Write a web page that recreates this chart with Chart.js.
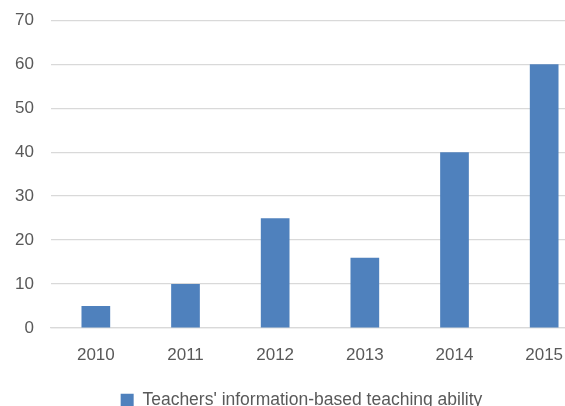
<!DOCTYPE html>
<html>
<head>
<meta charset="utf-8">
<script src="https://cdn.jsdelivr.net/npm/chart.js@4/dist/chart.umd.min.js"></script>
<style>
  html, body { margin: 0; padding: 0; background: #fff; overflow: hidden; }
  #wrap { width: 565px; height: 406px; overflow: hidden; position: relative; }
  #box { width: 636px; height: 426px; position: absolute; left: 0; top: -7px; }
</style>
</head>
<body>
<div id="wrap">
  <div id="box"><canvas id="bar-chart"></canvas></div>
</div>
<script>
// chart data
const years = ["2010", "2011", "2012", "2013", "2014", "2015"];
const abilityValues = [5, 10, 25, 16, 40, 60];
const seriesName = "Teachers' information-based teaching ability";

const FONT = "'Liberation Sans', Arial, sans-serif";
const GREY_TEXT = "#595959";

let config = {
  type: "bar",
  data: {
    labels: years,
    datasets: [
      {
        label: seriesName,
        data: abilityValues,
        backgroundColor: "#4f81bd",
        borderWidth: 0,
        barPercentage: 1,
        categoryPercentage: 0.32,
      },
    ],
  },
  options: {
    responsive: true,
    maintainAspectRatio: false,
    animation: false,
    layout: {
      padding: { left: 14, right: 47, top: 5, bottom: 0 },
    },
    plugins: {
      tooltip: { enabled: false },
      legend: {
        position: "bottom",
        labels: {
          font: { family: FONT, size: 17.5 },
          color: GREY_TEXT,
          boxWidth: 13,
          boxHeight: 13,
          padding: 9,
        },
      },
    },
    scales: {
      x: {
        grid: { display: false, drawTicks: false },
        border: { display: true, color: "#d9d9d9", width: 1.3 },
        ticks: {
          font: { family: FONT, size: 17 },
          color: GREY_TEXT,
          padding: 17,
        },
      },
      y: {
        min: 0,
        max: 70,
        grid: { color: "#d9d9d9", lineWidth: 1.3, drawTicks: false },
        border: { display: false },
        ticks: {
          stepSize: 10,
          font: { family: FONT, size: 17 },
          color: GREY_TEXT,
          padding: 17,
        },
        afterFit: function (scale) {
          scale.width = 37;
        },
      },
    },
  },
};

let ctx = document.getElementById("bar-chart").getContext("2d");
window.myBarChart = new Chart(ctx, config);
</script>
</body>
</html>
